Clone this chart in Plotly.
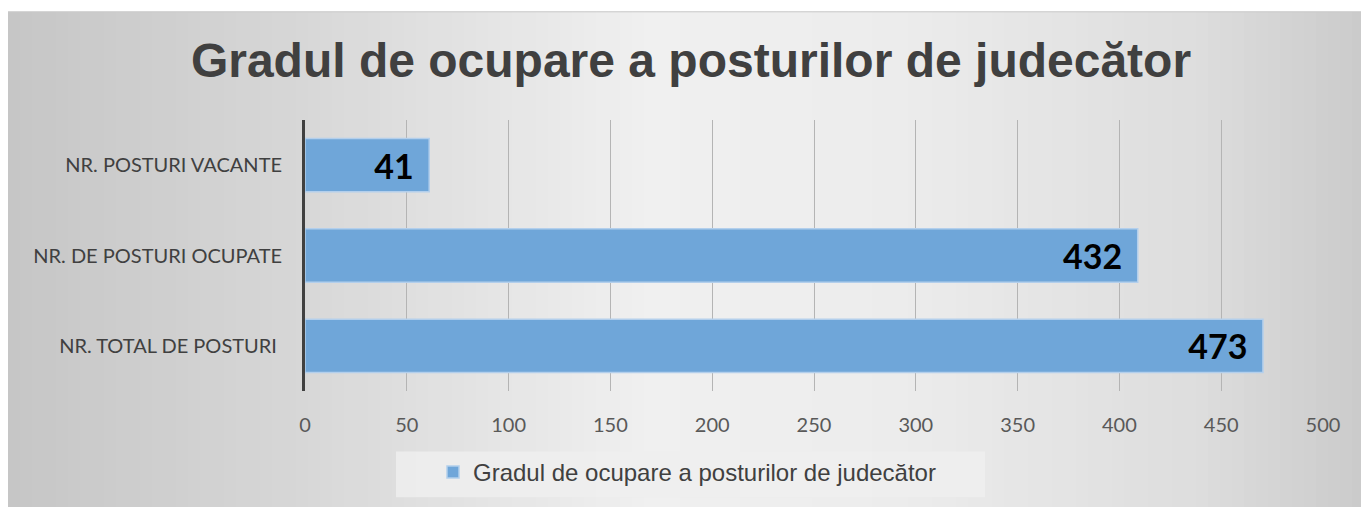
import plotly.graph_objects as go

# ---- data ----
categories = ["NR. TOTAL DE POSTURI ", "NR. DE POSTURI OCUPATE", "NR. POSTURI VACANTE"]
bar_lengths = [470.5, 409, 61]          # bar lengths as drawn on the axis
value_labels = ["473", "432", "41"]      # printed data labels
x_ticks = [0, 50, 100, 150, 200, 250, 300, 350, 400, 450, 500]
series_name = "Gradul de ocupare a posturilor de judecător"
title_text = "Gradul de ocupare a posturilor de judecător"

W, H = 1361, 507
L, R, T, B = 305, 1323, 120, 393

def px2x(px):
    return (px - L) / (R - L)

def py2y(py):
    return (B - py) / (B - T)

# background gradient stripes
def grey_at(px):
    pts = [(8, 198), (300, 215), (650, 240), (900, 236), (1200, 221), (1361, 203)]
    for (x0, g0), (x1, g1) in zip(pts, pts[1:]):
        if x0 <= px <= x1:
            return g0 + (g1 - g0) * (px - x0) / (x1 - x0)
    return pts[-1][1]

shapes = []
step = 12
px = 8
while px < W:
    g = int(round(grey_at(px + step / 2)))
    shapes.append(dict(type="rect", xref="paper", yref="paper",
                       x0=px2x(px), x1=px2x(min(px + step + 1, W + 10)),
                       y0=py2y(H + 10), y1=py2y(11),
                       fillcolor=f"rgb({g},{g},{g})", line=dict(width=0), layer="below"))
    px += step
# white page margins above and left of the chart frame
shapes.append(dict(type="rect", xref="paper", yref="paper",
                   x0=px2x(-5), x1=px2x(W + 10), y0=py2y(11), y1=py2y(-5),
                   fillcolor="white", line=dict(width=0), layer="below"))
shapes.append(dict(type="rect", xref="paper", yref="paper",
                   x0=px2x(-5), x1=px2x(8), y0=py2y(H + 10), y1=py2y(-5),
                   fillcolor="white", line=dict(width=0), layer="below"))
# top frame line
shapes.append(dict(type="line", xref="paper", yref="paper",
                   x0=px2x(8), x1=px2x(W), y0=py2y(11), y1=py2y(11),
                   line=dict(color="#c8c8c8", width=1), layer="below"))
# legend box
shapes.append(dict(type="rect", xref="paper", yref="paper",
                   x0=px2x(396), x1=px2x(985), y0=py2y(500), y1=py2y(454),
                   fillcolor="rgba(238,238,238,0.85)", line=dict(width=0), layer="below"))

fig = go.Figure()
fig.add_trace(go.Bar(
    y=categories, x=bar_lengths, orientation="h",
    name=series_name,
    text=[t + "\u00a0\u2009" for t in value_labels],
    textposition="inside", insidetextanchor="end",
    textfont=dict(family="Lato, Carlito, sans-serif", size=34, color="black", weight="bold"),
    marker=dict(color="#6fa6d9", line=dict(color="#b3cfec", width=1.5)),
    width=0.59,
    showlegend=True,
    hoverinfo="skip",
))

fig.update_layout(
    width=W, height=H,
    margin=dict(l=L, r=W - R, t=T, b=H - B),
    paper_bgcolor="#d2d2d2", plot_bgcolor="rgba(0,0,0,0)",
    shapes=shapes,
    title=dict(text=title_text, x=px2x(691), xref="paper", xanchor="center",
               y=1 - 60 / H, yanchor="middle",
               font=dict(family="Liberation Sans, Arial, sans-serif", size=48, color="#404040",
                         weight="bold")),
    xaxis=dict(range=[0, 500], tickvals=x_ticks, showgrid=True, gridcolor="#b4b4b4",
               gridwidth=1, zeroline=False, showline=False, ticks="",
               ticklabelstandoff=20,
               tickfont=dict(family="Lato, Carlito, sans-serif", size=20, color="#595959")),
    yaxis=dict(categoryorder="array", categoryarray=categories,
               range=[-0.5, 2.5], showline=True, linecolor="#404040", linewidth=3,
               showgrid=False, ticks="", ticklabelstandoff=16,
               tickfont=dict(family="Lato, Carlito, sans-serif", size=20, color="#404040")),
    legend=dict(orientation="h", x=px2x(433), xanchor="left", y=py2y(475), yanchor="middle",
                bgcolor="rgba(0,0,0,0)",
                font=dict(family="Liberation Sans, Arial, sans-serif", size=24, color="#404040"),
                itemwidth=30),
)

fig.write_html("out.html", config={"displayModeBar": False},
               post_script="document.body.style.margin='0px';"
                           "document.body.style.background='#d0d0d0';"
                           "document.documentElement.style.background='#d0d0d0';")
